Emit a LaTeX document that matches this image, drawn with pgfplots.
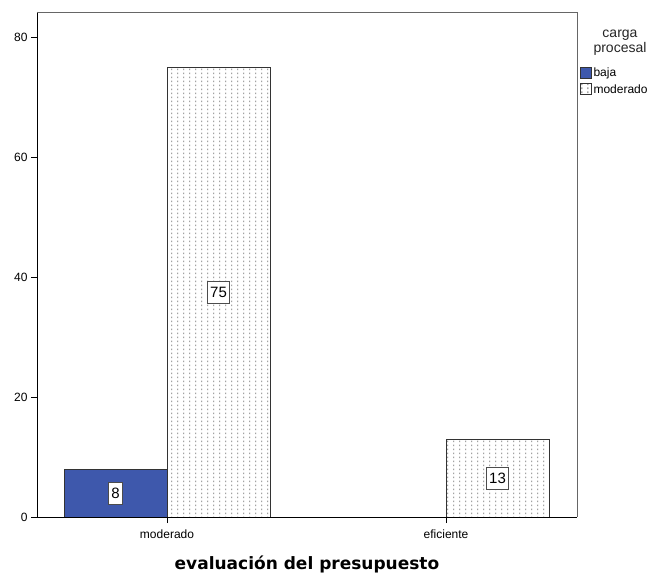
\documentclass[border=0pt]{standalone}
\usepackage{pgfplots}
\pgfplotsset{compat=1.18}
\usepackage{fontspec}
\setmainfont{Liberation Sans}
\newfontfamily\labfont{DejaVu Sans}
\usetikzlibrary{patterns}
\pgfdeclarepatternformonly{vdots}{\pgfpointorigin}{\pgfpoint{6.3pt}{4pt}}{\pgfpoint{6.3pt}{4pt}}{%
  \pgfpathrectangle{\pgfpoint{2.6pt}{1.0pt}}{\pgfpoint{1.0pt}{2.0pt}}\pgfusepath{fill}}
\definecolor{bajablue}{HTML}{3E58AC}
\begin{document}
\begin{tikzpicture}
\path[use as bounding box] (-37pt,-57pt) rectangle (622pt,517pt);
\begin{axis}[
  scale only axis,
  width=540pt, height=505pt,
  xmin=-0.466, xmax=1.4695,
  ymin=0, ymax=84.17,
  axis line style={draw=none},
  ytick={0,20,40,60,80},
  xtick={0,1},
  xticklabels={moderado,eficiente},
  tick style={black, line width=0.8pt},
  tick align=outside,
  ytick pos=left, xtick pos=bottom,
  major tick length=6pt,
  tick label style={font=\fontsize{12}{14}\selectfont},
  xticklabel style={yshift=-3pt},
  /pgf/number format/assume math mode=true,
  xlabel={\labfont\bfseries\fontsize{17}{20}\selectfont evaluación del presupuesto},
  xlabel style={yshift=-11pt},
  ybar, bar width=0.369, bar shift=0pt,
  legend style={at={(1.005,0.893)}, anchor=north west, draw=none, fill=none,
    font=\fontsize{12}{14}\selectfont, inner sep=0pt, row sep=2pt,
    legend cell align=left},
  legend image code/.code={\draw[#1] (0pt,-5pt) rectangle (11pt,6pt);},
  clip=false,
]
\addplot[fill=bajablue, draw=black!80, line width=0.6pt] coordinates {(-0.1846,8)};
\addlegendentry{baja}
\addplot[fill=white, draw=black!80, line width=0.6pt,
  postaction={pattern=vdots, pattern color=black!55}] coordinates {(0.1846,75) (1.1846,13)};
\addlegendentry{moderado}
\addplot[forget plot, only marks, mark=none, nodes near coords, point meta=explicit symbolic,
  nodes near coords align=center,
  every node near coord/.append style={anchor=center, fill=white, draw=black!70, line width=0.7pt,
    font=\fontsize{15}{17}\selectfont, inner sep=2.5pt, minimum height=22pt}]
  coordinates {(-0.1846,4) [8] (0.1846,37.5) [75] (1.1846,6.5) [13]};
\draw[black, line width=0.8pt] (rel axis cs:0,1) -- (rel axis cs:0,0) -- (rel axis cs:1,0);
\draw[black!60, line width=0.8pt] (rel axis cs:0,1) -- (rel axis cs:1,1) -- (rel axis cs:1,0);
\node[align=center, font=\fontsize{14}{15}\selectfont, text=black!85] at (rel axis cs:1.0796,0.94) {carga\\procesal};
\end{axis}
\end{tikzpicture}
\end{document}
